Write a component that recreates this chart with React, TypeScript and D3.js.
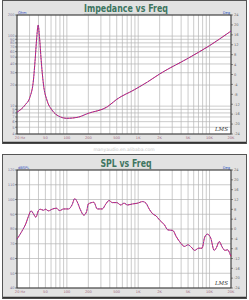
import React, { useEffect, useRef } from "react";
import * as d3 from "d3";

const freqTicks = [20, 50, 100, 200, 500, 1000, 2000, 5000, 10000, 20000];
const freqTickLabels = ["20 Hz", "50", "100", "200", "500", "1K", "2K", "5K", "10K", "20K"];
const ohmTicks = [4, 5, 6, 7, 8, 9, 10, 20, 30, 40, 50, 60, 70, 80, 90, 100, 200];
const degTicks = [24, 20, 16, 12, 8, 4, 0, -4, -8, -12, -16, -20, -24];
const splTicks = [120, 110, 100, 90, 80, 70, 60, 50, 40];

const impFreq = [20, 26, 30.5, 34, 35.9, 37.9, 39.6, 41.3, 43.6, 47.1, 52.5, 61.8, 76.8, 100, 139, 200, 370, 500, 880, 1358, 2000, 5000, 10000, 20000];
const impOhm = [8.2, 10.4, 13.6, 23.6, 45.6, 98, 144, 98, 45.6, 20, 12.2, 8.8, 7.2, 6.7, 6.9, 7.9, 9.8, 12.5, 17.1, 22.2, 28.8, 48.2, 73, 118];

const splFreq = [20, 23.3, 26.8, 28.9, 31.5, 34, 36.7, 40, 42.3, 47.1, 50, 55.4, 61.8, 71.1, 79.2, 90.2, 106, 118, 129, 139, 155, 173, 189, 200, 239, 267, 314, 350, 390, 435, 500, 570, 635, 708, 834, 980, 1153, 1285, 1432, 1596, 1779, 1983, 2333, 2601, 3062, 3412, 3797, 4469, 4988, 5549, 6182, 7046, 7854, 8566, 9342, 10404, 11613, 12527, 13675, 15071, 16415, 17914, 19321, 20000];
const splDb = [73.1, 78.3, 84, 88.5, 92.3, 90.3, 88, 92.5, 93.4, 92.7, 93.4, 92.3, 93.4, 94.1, 92.5, 93.6, 93.6, 96.3, 100.6, 98.6, 93, 89.4, 91.8, 97, 98.1, 93.6, 93.6, 96.8, 99.3, 97.9, 97.9, 96.3, 97.5, 96.3, 97, 97.5, 98.6, 97.5, 93.4, 90.3, 88.9, 86.2, 82.8, 79.4, 79, 74.9, 71.5, 68.2, 69.3, 67.7, 65.5, 67, 67, 74.5, 76.5, 73.8, 65.5, 67.5, 71.5, 67.7, 65.5, 65.9, 63.2, 61.4];

const gridFreqs: number[] = [];
[10, 100, 1000, 10000].forEach((d) => {
  for (let k = 1; k <= 9; k++) {
    const f = d * k;
    if (f >= 20 && f <= 20000) gridFreqs.push(f);
  }
});

const W = 249;
const H = 300;

export default function App() {
  const ref = useRef<SVGSVGElement>(null);
  useEffect(() => {
    const svg = d3.select(ref.current);
    svg.selectAll("*").remove();
    const fontFam = "'DejaVu Sans', Arial, sans-serif";

    svg.append("rect").attr("width", W).attr("height", H).attr("fill", "#ffffff");

    const panel = (
      py: number,
      ph: number,
      plotTop: number,
      plotBottom: number,
      title: string,
      titleY: number,
      titleLen: number,
      yScale: any,
      yTicks: number[],
      leftUnit: string,
      fData: number[],
      vData: number[]
    ) => {
      const g = svg.append("g");
      g.append("rect").attr("x", 2.5).attr("y", py + 0.5).attr("width", 244).attr("height", ph)
        .attr("fill", "#e2e2e2").attr("stroke", "#555").attr("stroke-width", 1);
      g.append("line").attr("x1", 3).attr("x2", 246).attr("y1", py + ph - 0.5).attr("y2", py + ph - 0.5)
        .attr("stroke", "#333").attr("stroke-width", 1.5);
      const x = d3.scaleLog().domain([20, 20000]).range([17, 231]);
      // title with underline shadow
      g.append("line").attr("x1", 126 - titleLen / 2).attr("x2", 126 + titleLen / 2)
        .attr("y1", titleY + 2.2).attr("y2", titleY + 2.2).attr("stroke", "#a8b8b0").attr("stroke-width", 0.8);
      g.append("text").attr("x", 126).attr("y", titleY).attr("text-anchor", "middle")
        .attr("font-family", fontFam).attr("font-weight", "bold").attr("font-size", 10)
        .attr("textLength", titleLen).attr("lengthAdjust", "spacingAndGlyphs")
        .attr("fill", "#3d7560").text(title);
      // plot area
      g.append("rect").attr("x", 17).attr("y", plotTop).attr("width", 214).attr("height", plotBottom - plotTop)
        .attr("fill", "#ffffff");
      gridFreqs.forEach((f) => {
        g.append("line").attr("x1", x(f)).attr("x2", x(f)).attr("y1", plotTop).attr("y2", plotBottom)
          .attr("stroke", "#b4b4b4").attr("stroke-width", 0.7);
      });
      yTicks.forEach((t) => {
        g.append("line").attr("x1", 17).attr("x2", 231).attr("y1", yScale(t)).attr("y2", yScale(t))
          .attr("stroke", "#b4b4b4").attr("stroke-width", 0.7);
        g.append("line").attr("x1", 15).attr("x2", 17).attr("y1", yScale(t)).attr("y2", yScale(t))
          .attr("stroke", "#444").attr("stroke-width", 0.6);
        g.append("text").attr("x", 14.5).attr("y", yScale(t) + 1.3).attr("text-anchor", "end")
          .attr("font-family", fontFam).attr("font-size", 3.6).attr("fill", "#7a7a9a").text(String(t));
      });
      const yr = d3.scaleLinear().domain([-24, 24]).range([plotBottom, plotTop]);
      degTicks.forEach((t) => {
        g.append("line").attr("x1", 231).attr("x2", 233).attr("y1", yr(t)).attr("y2", yr(t))
          .attr("stroke", "#444").attr("stroke-width", 0.6);
        g.append("text").attr("x", 234).attr("y", yr(t) + 1.3).attr("text-anchor", "start")
          .attr("font-family", fontFam).attr("font-size", 3.6).attr("fill", "#6a6a6a").text(String(t));
      });
      freqTicks.forEach((f, i) => {
        g.append("text").attr("x", x(f) + (i === 0 ? 3 : 0)).attr("y", plotBottom + 4.5).attr("text-anchor", "middle")
          .attr("font-family", fontFam).attr("font-size", 3.6).attr("fill", "#a06a80").text(freqTickLabels[i]);
      });
      g.append("text").attr("x", 18).attr("y", plotTop - 1).attr("font-family", fontFam).attr("font-size", 3.6)
        .attr("fill", "#3050c0").text(leftUnit);
      g.append("text").attr("x", 230).attr("y", plotTop - 1).attr("text-anchor", "end").attr("font-family", fontFam)
        .attr("font-size", 3.6).attr("fill", "#3050c0").text("Deg");
      g.append("rect").attr("x", 17).attr("y", plotTop).attr("width", 214).attr("height", plotBottom - plotTop)
        .attr("fill", "none").attr("stroke", "#222").attr("stroke-width", 0.9);
      // curve
      const pts: [number, number][] = fData.map((f, i) => [f, vData[i]]);
      const line = d3.line<[number, number]>().x((d) => x(d[0])).y((d) => yScale(d[1])).curve(d3.curveMonotoneX);
      g.append("path").attr("d", line(pts) as string).attr("fill", "none").attr("stroke", "#d02060").attr("stroke-width", 1);
      g.append("path").attr("d", line(pts) as string).attr("fill", "none").attr("stroke", "#6040c8")
        .attr("stroke-width", 0.7).attr("stroke-dasharray", "1.5,1.5");
      // logo
      g.append("text").attr("x", 228).attr("y", plotBottom - 3.5).attr("text-anchor", "end").attr("font-family", "'DejaVu Serif', serif")
        .attr("font-style", "italic").attr("font-size", 5.5).attr("fill", "#333").text("LMS");
    };

    const yImp = d3.scaleLog().domain([4, 200]).range([134, 15]);
    panel(0, 143, 15, 134, "Impedance vs Freq", 12, 84, yImp, ohmTicks, "Ohm", impFreq, impOhm);

    svg.append("text").attr("x", 124).attr("y", 151).attr("text-anchor", "middle").attr("font-family", fontFam)
      .attr("font-size", 4.5).attr("fill", "#c8c8c8").text("manyaudio.en.alibaba.com");

    const ySpl = d3.scaleLinear().domain([40, 120]).range([288, 170]);
    panel(154, 144, 170, 288, "SPL vs Freq", 167, 51, ySpl, splTicks, "dBSPL", splFreq, splDb);
  }, []);
  return (
    <div style={{ position: "absolute", left: 0, top: 0 }}>
      <svg ref={ref} width={W} height={H} style={{ display: "block" }} />
    </div>
  );
}
